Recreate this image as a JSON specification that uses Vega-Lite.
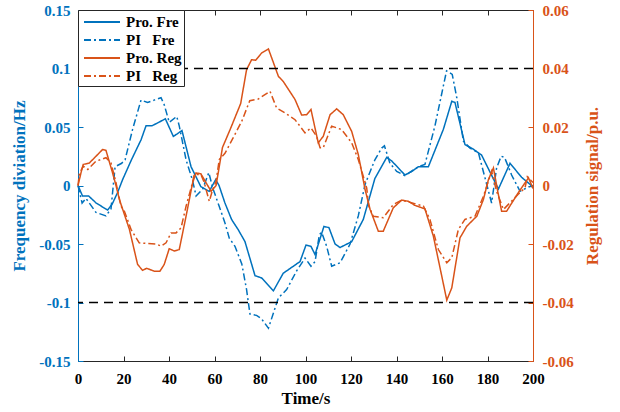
{
  "$schema": "https://vega.github.io/schema/vega-lite/v6.json",
  "width": 455,
  "height": 351,
  "autosize": {"type": "none"},
  "padding": {"left": 78, "top": 10, "right": 87, "bottom": 51},
  "background": "white",
  "config": {
    "view": {"stroke": null},
    "font": "Liberation Serif",
    "axis": {
      "grid": false,
      "labelFlush": false,
      "labelFont": "Liberation Serif",
      "labelFontWeight": "bold",
      "labelFontSize": 15,
      "titleFont": "Liberation Serif",
      "titleFontWeight": "bold",
      "titleFontSize": 17,
      "tickSize": -5,
      "domainWidth": 1,
      "tickWidth": 1,
      "labelPadding": 13
    },
    "legend": {
      "title": null, "orient": "top-left", "offset": 0, "strokeColor": "#262626", "fillColor": "white", "padding": 2,
      "symbolType": "M-2,0H2", "symbolSize": 324, "symbolStrokeWidth": 2, "symbolOffset": 12,
      "labelFont": "Liberation Serif", "labelFontWeight": "bold", "labelFontSize": 15, "labelColor": "black", "labelOffset": 14, "rowPadding": -9
    }
  },
  "datasets": {
    "fre": [
      {"s": "Pro. Fre", "t": 0, "v": 0}, {"s": "Pro. Fre", "t": 2, "v": -0.009}, {"s": "Pro. Fre", "t": 4.7, "v": -0.009}, {"s": "Pro. Fre", "t": 8, "v": -0.015}, {"s": "Pro. Fre", "t": 13, "v": -0.021}, {"s": "Pro. Fre", "t": 15, "v": -0.016}, {"s": "Pro. Fre", "t": 17.4, "v": -0.006}, {"s": "Pro. Fre", "t": 19.6, "v": 0.005}, {"s": "Pro. Fre", "t": 23.5, "v": 0.022}, {"s": "Pro. Fre", "t": 27.7, "v": 0.039}, {"s": "Pro. Fre", "t": 29.9, "v": 0.051}, {"s": "Pro. Fre", "t": 32.5, "v": 0.051}, {"s": "Pro. Fre", "t": 35.5, "v": 0.054}, {"s": "Pro. Fre", "t": 38.4, "v": 0.057}, {"s": "Pro. Fre", "t": 41.9, "v": 0.042}, {"s": "Pro. Fre", "t": 43.5, "v": 0.044}, {"s": "Pro. Fre", "t": 45.7, "v": 0.047}, {"s": "Pro. Fre", "t": 49.7, "v": 0.016}, {"s": "Pro. Fre", "t": 54, "v": -0.001}, {"s": "Pro. Fre", "t": 57.7, "v": -0.005}, {"s": "Pro. Fre", "t": 60.5, "v": 0.005}, {"s": "Pro. Fre", "t": 62, "v": 0.0}, {"s": "Pro. Fre", "t": 64.6, "v": -0.015}, {"s": "Pro. Fre", "t": 67.5, "v": -0.029}, {"s": "Pro. Fre", "t": 70.5, "v": -0.038}, {"s": "Pro. Fre", "t": 73.4, "v": -0.048}, {"s": "Pro. Fre", "t": 77.8, "v": -0.077}, {"s": "Pro. Fre", "t": 80.7, "v": -0.079}, {"s": "Pro. Fre", "t": 85.9, "v": -0.09}, {"s": "Pro. Fre", "t": 90.2, "v": -0.075}, {"s": "Pro. Fre", "t": 95.4, "v": -0.068}, {"s": "Pro. Fre", "t": 97.6, "v": -0.065}, {"s": "Pro. Fre", "t": 100.2, "v": -0.051}, {"s": "Pro. Fre", "t": 102.4, "v": -0.052}, {"s": "Pro. Fre", "t": 104.2, "v": -0.059}, {"s": "Pro. Fre", "t": 108.1, "v": -0.035}, {"s": "Pro. Fre", "t": 110.3, "v": -0.036}, {"s": "Pro. Fre", "t": 113, "v": -0.05}, {"s": "Pro. Fre", "t": 115.2, "v": -0.053}, {"s": "Pro. Fre", "t": 120.3, "v": -0.048}, {"s": "Pro. Fre", "t": 125.4, "v": -0.029}, {"s": "Pro. Fre", "t": 130.5, "v": 0.006}, {"s": "Pro. Fre", "t": 135.7, "v": 0.024}, {"s": "Pro. Fre", "t": 137.9, "v": 0.021}, {"s": "Pro. Fre", "t": 143.7, "v": 0.009}, {"s": "Pro. Fre", "t": 146.7, "v": 0.012}, {"s": "Pro. Fre", "t": 149.6, "v": 0.016}, {"s": "Pro. Fre", "t": 154, "v": 0.016}, {"s": "Pro. Fre", "t": 160.6, "v": 0.048}, {"s": "Pro. Fre", "t": 164.3, "v": 0.072}, {"s": "Pro. Fre", "t": 165.7, "v": 0.071}, {"s": "Pro. Fre", "t": 170.1, "v": 0.035}, {"s": "Pro. Fre", "t": 173.8, "v": 0.031}, {"s": "Pro. Fre", "t": 177.4, "v": 0.026}, {"s": "Pro. Fre", "t": 184.8, "v": -0.003}, {"s": "Pro. Fre", "t": 189.9, "v": 0.019}, {"s": "Pro. Fre", "t": 195, "v": 0.007}, {"s": "Pro. Fre", "t": 198.7, "v": 0.001}, {"s": "Pro. Fre", "t": 200, "v": -0.002},
      {"s": "PI\u00a0\u00a0\u00a0Fre", "t": 0, "v": 0}, {"s": "PI\u00a0\u00a0\u00a0Fre", "t": 1.8, "v": -0.015}, {"s": "PI\u00a0\u00a0\u00a0Fre", "t": 3.5, "v": -0.011}, {"s": "PI\u00a0\u00a0\u00a0Fre", "t": 7.9, "v": -0.023}, {"s": "PI\u00a0\u00a0\u00a0Fre", "t": 12.3, "v": -0.026}, {"s": "PI\u00a0\u00a0\u00a0Fre", "t": 14.5, "v": -0.02}, {"s": "PI\u00a0\u00a0\u00a0Fre", "t": 16.3, "v": 0.016}, {"s": "PI\u00a0\u00a0\u00a0Fre", "t": 19.2, "v": 0.019}, {"s": "PI\u00a0\u00a0\u00a0Fre", "t": 20.7, "v": 0.022}, {"s": "PI\u00a0\u00a0\u00a0Fre", "t": 24, "v": 0.048}, {"s": "PI\u00a0\u00a0\u00a0Fre", "t": 27.7, "v": 0.073}, {"s": "PI\u00a0\u00a0\u00a0Fre", "t": 30.6, "v": 0.071}, {"s": "PI\u00a0\u00a0\u00a0Fre", "t": 33.5, "v": 0.073}, {"s": "PI\u00a0\u00a0\u00a0Fre", "t": 36.5, "v": 0.075}, {"s": "PI\u00a0\u00a0\u00a0Fre", "t": 37.9, "v": 0.069}, {"s": "PI\u00a0\u00a0\u00a0Fre", "t": 40.1, "v": 0.054}, {"s": "PI\u00a0\u00a0\u00a0Fre", "t": 43.4, "v": 0.059}, {"s": "PI\u00a0\u00a0\u00a0Fre", "t": 44.5, "v": 0.051}, {"s": "PI\u00a0\u00a0\u00a0Fre", "t": 47.5, "v": 0.022}, {"s": "PI\u00a0\u00a0\u00a0Fre", "t": 50.4, "v": 0.004}, {"s": "PI\u00a0\u00a0\u00a0Fre", "t": 51.9, "v": -0.009}, {"s": "PI\u00a0\u00a0\u00a0Fre", "t": 54.8, "v": -0.003}, {"s": "PI\u00a0\u00a0\u00a0Fre", "t": 57.5, "v": 0.011}, {"s": "PI\u00a0\u00a0\u00a0Fre", "t": 59.2, "v": -0.002}, {"s": "PI\u00a0\u00a0\u00a0Fre", "t": 62.1, "v": -0.018}, {"s": "PI\u00a0\u00a0\u00a0Fre", "t": 64.6, "v": -0.032}, {"s": "PI\u00a0\u00a0\u00a0Fre", "t": 66.5, "v": -0.045}, {"s": "PI\u00a0\u00a0\u00a0Fre", "t": 69, "v": -0.052}, {"s": "PI\u00a0\u00a0\u00a0Fre", "t": 72, "v": -0.067}, {"s": "PI\u00a0\u00a0\u00a0Fre", "t": 74.1, "v": -0.089}, {"s": "PI\u00a0\u00a0\u00a0Fre", "t": 75.6, "v": -0.11}, {"s": "PI\u00a0\u00a0\u00a0Fre", "t": 78.5, "v": -0.111}, {"s": "PI\u00a0\u00a0\u00a0Fre", "t": 80.7, "v": -0.114}, {"s": "PI\u00a0\u00a0\u00a0Fre", "t": 83.7, "v": -0.122}, {"s": "PI\u00a0\u00a0\u00a0Fre", "t": 85.9, "v": -0.109}, {"s": "PI\u00a0\u00a0\u00a0Fre", "t": 88.1, "v": -0.096}, {"s": "PI\u00a0\u00a0\u00a0Fre", "t": 91.7, "v": -0.089}, {"s": "PI\u00a0\u00a0\u00a0Fre", "t": 96.1, "v": -0.073}, {"s": "PI\u00a0\u00a0\u00a0Fre", "t": 99.8, "v": -0.062}, {"s": "PI\u00a0\u00a0\u00a0Fre", "t": 102.4, "v": -0.069}, {"s": "PI\u00a0\u00a0\u00a0Fre", "t": 104.2, "v": -0.065}, {"s": "PI\u00a0\u00a0\u00a0Fre", "t": 106.1, "v": -0.042}, {"s": "PI\u00a0\u00a0\u00a0Fre", "t": 107.1, "v": -0.04}, {"s": "PI\u00a0\u00a0\u00a0Fre", "t": 109.3, "v": -0.052}, {"s": "PI\u00a0\u00a0\u00a0Fre", "t": 111.5, "v": -0.069}, {"s": "PI\u00a0\u00a0\u00a0Fre", "t": 115.2, "v": -0.066}, {"s": "PI\u00a0\u00a0\u00a0Fre", "t": 119.6, "v": -0.05}, {"s": "PI\u00a0\u00a0\u00a0Fre", "t": 123.2, "v": -0.026}, {"s": "PI\u00a0\u00a0\u00a0Fre", "t": 126.2, "v": 0.001}, {"s": "PI\u00a0\u00a0\u00a0Fre", "t": 130.5, "v": 0.022}, {"s": "PI\u00a0\u00a0\u00a0Fre", "t": 133.5, "v": 0.032}, {"s": "PI\u00a0\u00a0\u00a0Fre", "t": 134.7, "v": 0.034}, {"s": "PI\u00a0\u00a0\u00a0Fre", "t": 137.1, "v": 0.019}, {"s": "PI\u00a0\u00a0\u00a0Fre", "t": 140.1, "v": 0.012}, {"s": "PI\u00a0\u00a0\u00a0Fre", "t": 143.7, "v": 0.0085}, {"s": "PI\u00a0\u00a0\u00a0Fre", "t": 149.6, "v": 0.016}, {"s": "PI\u00a0\u00a0\u00a0Fre", "t": 152.5, "v": 0.018}, {"s": "PI\u00a0\u00a0\u00a0Fre", "t": 156.9, "v": 0.051}, {"s": "PI\u00a0\u00a0\u00a0Fre", "t": 162, "v": 0.098}, {"s": "PI\u00a0\u00a0\u00a0Fre", "t": 164.5, "v": 0.095}, {"s": "PI\u00a0\u00a0\u00a0Fre", "t": 166.5, "v": 0.075}, {"s": "PI\u00a0\u00a0\u00a0Fre", "t": 169.4, "v": 0.038}, {"s": "PI\u00a0\u00a0\u00a0Fre", "t": 172.3, "v": 0.032}, {"s": "PI\u00a0\u00a0\u00a0Fre", "t": 176, "v": 0.028}, {"s": "PI\u00a0\u00a0\u00a0Fre", "t": 178.9, "v": 0.0066}, {"s": "PI\u00a0\u00a0\u00a0Fre", "t": 181.8, "v": -0.015}, {"s": "PI\u00a0\u00a0\u00a0Fre", "t": 184, "v": 0.015}, {"s": "PI\u00a0\u00a0\u00a0Fre", "t": 186, "v": 0.025}, {"s": "PI\u00a0\u00a0\u00a0Fre", "t": 187.5, "v": 0.024}, {"s": "PI\u00a0\u00a0\u00a0Fre", "t": 190.6, "v": 0.009}, {"s": "PI\u00a0\u00a0\u00a0Fre", "t": 194.3, "v": -0.005}, {"s": "PI\u00a0\u00a0\u00a0Fre", "t": 197.2, "v": -0.002}, {"s": "PI\u00a0\u00a0\u00a0Fre", "t": 200, "v": 0}
    ],
    "reg": [
      {"s": "Pro. Reg", "t": 0, "v": 0}, {"s": "Pro. Reg", "t": 1.3, "v": 0.0043}, {"s": "Pro. Reg", "t": 2.3, "v": 0.0072}, {"s": "Pro. Reg", "t": 5, "v": 0.0077}, {"s": "Pro. Reg", "t": 7.9, "v": 0.01}, {"s": "Pro. Reg", "t": 10.8, "v": 0.0123}, {"s": "Pro. Reg", "t": 12.3, "v": 0.012}, {"s": "Pro. Reg", "t": 15.2, "v": 0.0043}, {"s": "Pro. Reg", "t": 16.7, "v": 0}, {"s": "Pro. Reg", "t": 18.2, "v": -0.0048}, {"s": "Pro. Reg", "t": 22.6, "v": -0.015}, {"s": "Pro. Reg", "t": 26.2, "v": -0.027}, {"s": "Pro. Reg", "t": 28.4, "v": -0.029}, {"s": "Pro. Reg", "t": 30.2, "v": -0.0283}, {"s": "Pro. Reg", "t": 33.5, "v": -0.0293}, {"s": "Pro. Reg", "t": 36, "v": -0.0293}, {"s": "Pro. Reg", "t": 37.9, "v": -0.027}, {"s": "Pro. Reg", "t": 40.1, "v": -0.0216}, {"s": "Pro. Reg", "t": 42.3, "v": -0.0224}, {"s": "Pro. Reg", "t": 44.5, "v": -0.0219}, {"s": "Pro. Reg", "t": 47.5, "v": -0.0105}, {"s": "Pro. Reg", "t": 50.4, "v": 0.001}, {"s": "Pro. Reg", "t": 51.9, "v": 0.0043}, {"s": "Pro. Reg", "t": 54, "v": 0.004}, {"s": "Pro. Reg", "t": 57, "v": 0}, {"s": "Pro. Reg", "t": 58.5, "v": -0.002}, {"s": "Pro. Reg", "t": 60.7, "v": 0}, {"s": "Pro. Reg", "t": 63.5, "v": 0.013}, {"s": "Pro. Reg", "t": 66.8, "v": 0.019}, {"s": "Pro. Reg", "t": 71.5, "v": 0.028}, {"s": "Pro. Reg", "t": 74.1, "v": 0.0396}, {"s": "Pro. Reg", "t": 76.3, "v": 0.043}, {"s": "Pro. Reg", "t": 78.1, "v": 0.0428}, {"s": "Pro. Reg", "t": 80.7, "v": 0.0453}, {"s": "Pro. Reg", "t": 83.7, "v": 0.0467}, {"s": "Pro. Reg", "t": 88.1, "v": 0.0373}, {"s": "Pro. Reg", "t": 90.2, "v": 0.0356}, {"s": "Pro. Reg", "t": 95.4, "v": 0.0294}, {"s": "Pro. Reg", "t": 98.3, "v": 0.0241}, {"s": "Pro. Reg", "t": 100.5, "v": 0.0242}, {"s": "Pro. Reg", "t": 102.4, "v": 0.026}, {"s": "Pro. Reg", "t": 105.6, "v": 0.0146}, {"s": "Pro. Reg", "t": 107.8, "v": 0.0168}, {"s": "Pro. Reg", "t": 110.8, "v": 0.0242}, {"s": "Pro. Reg", "t": 113.7, "v": 0.0262}, {"s": "Pro. Reg", "t": 116.6, "v": 0.0242}, {"s": "Pro. Reg", "t": 120.3, "v": 0.0185}, {"s": "Pro. Reg", "t": 123.2, "v": 0.0106}, {"s": "Pro. Reg", "t": 126.2, "v": -0.0014}, {"s": "Pro. Reg", "t": 128.4, "v": -0.0082}, {"s": "Pro. Reg", "t": 132, "v": -0.0156}, {"s": "Pro. Reg", "t": 134.2, "v": -0.0156}, {"s": "Pro. Reg", "t": 138.6, "v": -0.0076}, {"s": "Pro. Reg", "t": 142.3, "v": -0.005}, {"s": "Pro. Reg", "t": 145.2, "v": -0.0054}, {"s": "Pro. Reg", "t": 148.1, "v": -0.0068}, {"s": "Pro. Reg", "t": 152.5, "v": -0.008}, {"s": "Pro. Reg", "t": 156.2, "v": -0.0173}, {"s": "Pro. Reg", "t": 159.9, "v": -0.031}, {"s": "Pro. Reg", "t": 162.1, "v": -0.0392}, {"s": "Pro. Reg", "t": 164.3, "v": -0.035}, {"s": "Pro. Reg", "t": 167.9, "v": -0.0179}, {"s": "Pro. Reg", "t": 170.9, "v": -0.0139}, {"s": "Pro. Reg", "t": 175.3, "v": -0.0105}, {"s": "Pro. Reg", "t": 178.2, "v": -0.0048}, {"s": "Pro. Reg", "t": 180.4, "v": 0.002}, {"s": "Pro. Reg", "t": 182.6, "v": 0.006}, {"s": "Pro. Reg", "t": 184.5, "v": -0.002}, {"s": "Pro. Reg", "t": 186.2, "v": -0.0088}, {"s": "Pro. Reg", "t": 188.4, "v": -0.0088}, {"s": "Pro. Reg", "t": 193.5, "v": -0.0025}, {"s": "Pro. Reg", "t": 195.7, "v": 0}, {"s": "Pro. Reg", "t": 198, "v": 0.0026}, {"s": "Pro. Reg", "t": 200, "v": -0.001},
      {"s": "PI\u00a0\u00a0\u00a0Reg", "t": 0, "v": 0}, {"s": "PI\u00a0\u00a0\u00a0Reg", "t": 0.6, "v": 0.004}, {"s": "PI\u00a0\u00a0\u00a0Reg", "t": 2.3, "v": 0.0066}, {"s": "PI\u00a0\u00a0\u00a0Reg", "t": 4.3, "v": 0.0055}, {"s": "PI\u00a0\u00a0\u00a0Reg", "t": 7.9, "v": 0.0083}, {"s": "PI\u00a0\u00a0\u00a0Reg", "t": 12.3, "v": 0.0095}, {"s": "PI\u00a0\u00a0\u00a0Reg", "t": 14.5, "v": 0.0077}, {"s": "PI\u00a0\u00a0\u00a0Reg", "t": 16.7, "v": 0.001}, {"s": "PI\u00a0\u00a0\u00a0Reg", "t": 18.9, "v": -0.0071}, {"s": "PI\u00a0\u00a0\u00a0Reg", "t": 20.4, "v": -0.0088}, {"s": "PI\u00a0\u00a0\u00a0Reg", "t": 23.3, "v": -0.015}, {"s": "PI\u00a0\u00a0\u00a0Reg", "t": 26.9, "v": -0.0196}, {"s": "PI\u00a0\u00a0\u00a0Reg", "t": 29.9, "v": -0.0198}, {"s": "PI\u00a0\u00a0\u00a0Reg", "t": 34.3, "v": -0.02}, {"s": "PI\u00a0\u00a0\u00a0Reg", "t": 36.5, "v": -0.0207}, {"s": "PI\u00a0\u00a0\u00a0Reg", "t": 38.7, "v": -0.0196}, {"s": "PI\u00a0\u00a0\u00a0Reg", "t": 40.9, "v": -0.0162}, {"s": "PI\u00a0\u00a0\u00a0Reg", "t": 43.1, "v": -0.0162}, {"s": "PI\u00a0\u00a0\u00a0Reg", "t": 45.3, "v": -0.0145}, {"s": "PI\u00a0\u00a0\u00a0Reg", "t": 47.5, "v": -0.0071}, {"s": "PI\u00a0\u00a0\u00a0Reg", "t": 50.1, "v": 0.0003}, {"s": "PI\u00a0\u00a0\u00a0Reg", "t": 51.1, "v": 0.0038}, {"s": "PI\u00a0\u00a0\u00a0Reg", "t": 54, "v": 0.0038}, {"s": "PI\u00a0\u00a0\u00a0Reg", "t": 55.5, "v": 0.001}, {"s": "PI\u00a0\u00a0\u00a0Reg", "t": 57.7, "v": -0.0054}, {"s": "PI\u00a0\u00a0\u00a0Reg", "t": 59.2, "v": -0.0014}, {"s": "PI\u00a0\u00a0\u00a0Reg", "t": 60.7, "v": 0.0015}, {"s": "PI\u00a0\u00a0\u00a0Reg", "t": 62.1, "v": 0.0089}, {"s": "PI\u00a0\u00a0\u00a0Reg", "t": 64.6, "v": 0.011}, {"s": "PI\u00a0\u00a0\u00a0Reg", "t": 68, "v": 0.016}, {"s": "PI\u00a0\u00a0\u00a0Reg", "t": 72, "v": 0.022}, {"s": "PI\u00a0\u00a0\u00a0Reg", "t": 75.5, "v": 0.029}, {"s": "PI\u00a0\u00a0\u00a0Reg", "t": 79.3, "v": 0.0296}, {"s": "PI\u00a0\u00a0\u00a0Reg", "t": 84.4, "v": 0.0322}, {"s": "PI\u00a0\u00a0\u00a0Reg", "t": 87.3, "v": 0.0265}, {"s": "PI\u00a0\u00a0\u00a0Reg", "t": 91, "v": 0.0248}, {"s": "PI\u00a0\u00a0\u00a0Reg", "t": 95.4, "v": 0.0225}, {"s": "PI\u00a0\u00a0\u00a0Reg", "t": 99.8, "v": 0.018}, {"s": "PI\u00a0\u00a0\u00a0Reg", "t": 102.4, "v": 0.0197}, {"s": "PI\u00a0\u00a0\u00a0Reg", "t": 104.9, "v": 0.0168}, {"s": "PI\u00a0\u00a0\u00a0Reg", "t": 106.4, "v": 0.0129}, {"s": "PI\u00a0\u00a0\u00a0Reg", "t": 107.8, "v": 0.0129}, {"s": "PI\u00a0\u00a0\u00a0Reg", "t": 111.5, "v": 0.0203}, {"s": "PI\u00a0\u00a0\u00a0Reg", "t": 115.9, "v": 0.0191}, {"s": "PI\u00a0\u00a0\u00a0Reg", "t": 120.3, "v": 0.0146}, {"s": "PI\u00a0\u00a0\u00a0Reg", "t": 123.2, "v": 0.0089}, {"s": "PI\u00a0\u00a0\u00a0Reg", "t": 126.9, "v": -0.0008}, {"s": "PI\u00a0\u00a0\u00a0Reg", "t": 127.8, "v": -0.007}, {"s": "PI\u00a0\u00a0\u00a0Reg", "t": 129.8, "v": -0.0105}, {"s": "PI\u00a0\u00a0\u00a0Reg", "t": 134.2, "v": -0.011}, {"s": "PI\u00a0\u00a0\u00a0Reg", "t": 138.6, "v": -0.0065}, {"s": "PI\u00a0\u00a0\u00a0Reg", "t": 142.3, "v": -0.005}, {"s": "PI\u00a0\u00a0\u00a0Reg", "t": 151.8, "v": -0.007}, {"s": "PI\u00a0\u00a0\u00a0Reg", "t": 154.7, "v": -0.0116}, {"s": "PI\u00a0\u00a0\u00a0Reg", "t": 158.4, "v": -0.0219}, {"s": "PI\u00a0\u00a0\u00a0Reg", "t": 162.1, "v": -0.0264}, {"s": "PI\u00a0\u00a0\u00a0Reg", "t": 164.3, "v": -0.0247}, {"s": "PI\u00a0\u00a0\u00a0Reg", "t": 167.2, "v": -0.015}, {"s": "PI\u00a0\u00a0\u00a0Reg", "t": 170.1, "v": -0.0116}, {"s": "PI\u00a0\u00a0\u00a0Reg", "t": 174.5, "v": -0.0105}, {"s": "PI\u00a0\u00a0\u00a0Reg", "t": 178.2, "v": -0.0037}, {"s": "PI\u00a0\u00a0\u00a0Reg", "t": 181.8, "v": 0.0049}, {"s": "PI\u00a0\u00a0\u00a0Reg", "t": 184, "v": -0.002}, {"s": "PI\u00a0\u00a0\u00a0Reg", "t": 187, "v": -0.0082}, {"s": "PI\u00a0\u00a0\u00a0Reg", "t": 193.5, "v": -0.003}, {"s": "PI\u00a0\u00a0\u00a0Reg", "t": 196.5, "v": -0.0008}, {"s": "PI\u00a0\u00a0\u00a0Reg", "t": 197.5, "v": 0.003}, {"s": "PI\u00a0\u00a0\u00a0Reg", "t": 200, "v": 0.001}
    ]
  },
  "layer": [
    {
      "data": {"name": "fre"},
      "mark": {"type": "line", "strokeWidth": 1.5},
      "encoding": {
        "x": {
          "field": "t", "type": "quantitative",
          "scale": {"domain": [0, 200], "nice": false},
          "axis": {"orient": "bottom", "values": [0, 20, 40, 60, 80, 100, 120, 140, 160, 180, 200], "title": "Time/s", "domainColor": "#262626", "tickColor": "#262626", "labelColor": "black", "titleColor": "black", "labelPadding": 15, "titlePadding": 4}
        },
        "y": {
          "field": "v", "type": "quantitative",
          "scale": {"domain": [-0.15, 0.15], "nice": false},
          "axis": {"orient": "left", "values": [-0.15, -0.1, -0.05, 0, 0.05, 0.1, 0.15], "labelExpr": "toString(datum.value)", "title": "Frequency diviation/Hz", "domainColor": "#0072BD", "tickColor": "#0072BD", "labelColor": "#0072BD", "titleColor": "#0072BD", "titlePadding": 10}
        },
        "color": {
          "field": "s", "type": "nominal",
          "scale": {"domain": ["Pro. Fre", "PI\u00a0\u00a0\u00a0Fre", "Pro. Reg", "PI\u00a0\u00a0\u00a0Reg"], "range": ["#0072BD", "#0072BD", "#D95319", "#D95319"]}
        },
        "strokeDash": {
          "field": "s", "type": "nominal",
          "scale": {"domain": ["Pro. Fre", "PI\u00a0\u00a0\u00a0Fre", "Pro. Reg", "PI\u00a0\u00a0\u00a0Reg"], "range": [[1, 0], [7, 3, 2, 3], [1, 0], [7, 3, 2, 3]]}
        }
      }
    },
    {
      "data": {"name": "reg"},
      "mark": {"type": "line", "strokeWidth": 1.5},
      "encoding": {
        "x": {
          "field": "t", "type": "quantitative",
          "scale": {"domain": [0, 200], "nice": false},
          "axis": {"orient": "top", "values": [0, 20, 40, 60, 80, 100, 120, 140, 160, 180, 200], "labels": false, "title": null, "domainColor": "#262626", "tickColor": "#262626"}
        },
        "y": {
          "field": "v", "type": "quantitative",
          "scale": {"domain": [-0.06, 0.06], "nice": false},
          "axis": {"orient": "right", "values": [-0.06, -0.04, -0.02, 0, 0.02, 0.04, 0.06], "labelExpr": "toString(datum.value)", "title": "Regulation signal/p.u.", "titleAngle": 270, "domainColor": "#D95319", "tickColor": "#D95319", "labelColor": "#D95319", "titleColor": "#D95319", "labelPadding": 14, "titlePadding": 28}
        },
        "color": {
          "field": "s", "type": "nominal",
          "scale": {"domain": ["Pro. Fre", "PI\u00a0\u00a0\u00a0Fre", "Pro. Reg", "PI\u00a0\u00a0\u00a0Reg"], "range": ["#0072BD", "#0072BD", "#D95319", "#D95319"]}
        },
        "strokeDash": {
          "field": "s", "type": "nominal",
          "scale": {"domain": ["Pro. Fre", "PI\u00a0\u00a0\u00a0Fre", "Pro. Reg", "PI\u00a0\u00a0\u00a0Reg"], "range": [[1, 0], [7, 3, 2, 3], [1, 0], [7, 3, 2, 3]]}
        }
      }
    },
    {
      "data": {"values": [{"y": 0.1}, {"y": -0.1}]},
      "mark": {"type": "rule", "color": "black", "strokeDash": [9, 6], "strokeWidth": 1.5},
      "encoding": {
        "y": {"field": "y", "type": "quantitative", "scale": {"domain": [-0.15, 0.15], "nice": false}, "axis": null}
      }
    }
  ],
  "resolve": {"scale": {"y": "independent"}, "axis": {"x": "independent"}}
}
